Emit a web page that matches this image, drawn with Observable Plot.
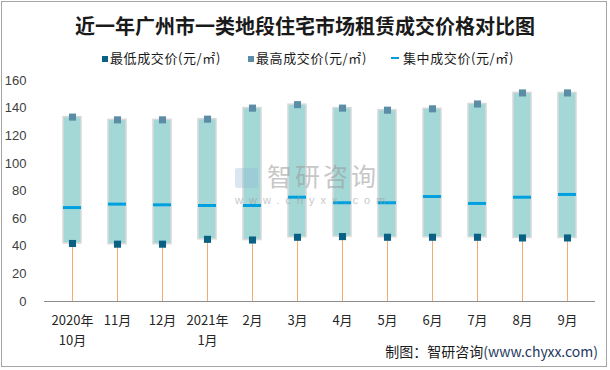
<!DOCTYPE html>
<html>
<head>
<meta charset="utf-8">
<script src="https://cdn.jsdelivr.net/npm/d3@7"></script>
<script src="https://cdn.jsdelivr.net/npm/@observablehq/plot@0.6"></script>
<style>
  html, body { margin: 0; padding: 0; background: #fff; }
  #frame { position: relative; width: 610px; height: 370px; overflow: hidden; font-family: "Noto Sans CJK SC", "Liberation Sans", sans-serif; }
  #border { position: absolute; left: 1px; top: 1px; width: 604px; height: 364px; border: 1px solid #a6a6a6; }
  #title { position: absolute; left: 0; width: 610px; top: 12px; text-align: center; font-size: 20px; font-weight: bold; color: #1a1a1a; line-height: 28px; }
  .leg { position: absolute; top: 49px; font-size: 13px; letter-spacing: 0.6px; color: #1a1a1a; line-height: 18px; white-space: nowrap; }
  .sw { display: inline-block; width: 6px; height: 6px; margin-right: 2px; vertical-align: 1px; }
  .ln { display: inline-block; width: 8px; height: 2px; margin-right: 4px; vertical-align: 4px; background: #00a0e0; }
  #source { position: absolute; right: 12px; top: 341px; font-size: 14px; color: #1a1a1a; white-space: nowrap; }
  #source .u { color: #1f3a60; }
  #chart { position: absolute; left: 0; top: 0; }
  #wm { position: absolute; left: 235px; top: 162px; color: #9a9a9a; opacity: 0.55; white-space: nowrap; pointer-events: none; }
  #wm .logo { display: inline-block; width: 23px; height: 20px; background: #8fb8d4; opacity: 0.6; vertical-align: -2px; margin-right: 9px; border-radius: 2px; }
  #wm .name { font-size: 25px; letter-spacing: 3px; line-height: 27px; }
  #wm .url { font-size: 11px; letter-spacing: 6px; line-height: 13px; margin-top: 3px; font-family: "Liberation Sans", sans-serif; }
</style>
</head>
<body>
<div id="frame">
  <div id="border"></div>
  <div id="title">近一年广州市一类地段住宅市场租赁成交价格对比图</div>
  <div class="leg" style="left:102px"><span class="sw" style="background:#0b6184"></span>最低成交价(元/㎡)</div>
  <div class="leg" style="left:248px"><span class="sw" style="background:#5b8ea6"></span>最高成交价(元/㎡)</div>
  <div class="leg" style="left:391px"><span class="ln"></span>集中成交价(元/㎡)</div>
  <div id="chart"></div>
  <div id="wm"><div><span class="logo"></span><span class="name">智研咨询</span></div><div class="url">www.chyxx.com</div></div>
  <div id="source">制图：智研咨询<span class="u">(www.chyxx.com)</span></div>
</div>
<script>
const months = ["2020年\n10月", "11月", "12月", "2021年\n1月", "2月", "3月", "4月", "5月", "6月", "7月", "8月", "9月"];
const minPrice = [42, 41.5, 41.5, 45, 44.5, 46.5, 47, 46.5, 46.5, 46.5, 46, 46];
const maxPrice = [133.5, 131.5, 131.5, 132, 140, 142.5, 140, 138.5, 139.5, 143, 151, 151];
const midPrice = [68, 70.5, 70, 69.5, 69.5, 75.5, 71.5, 71.5, 76, 71, 75.5, 77.5];
const yTicks = [0, 20, 40, 60, 80, 100, 120, 140, 160];

const data = months.map((m, i) => ({month: m, min: minPrice[i], max: maxPrice[i], mid: midPrice[i]}));

const chart = Plot.plot({
  width: 610,
  height: 370,
  marginTop: 80,
  marginBottom: 69,
  marginLeft: 44,
  marginRight: 15,
  style: {fontFamily: "'Liberation Sans', 'Noto Sans CJK SC', sans-serif", background: "transparent"},
  x: {domain: months, paddingInner: 0.6, paddingOuter: 0.3, axis: null, label: null},
  y: {domain: [0, 160], axis: null, label: null},
  marks: [
    Plot.axisY({ticks: yTicks, tickSize: 0, tickPadding: 18, fontSize: 13, color: "#404040", label: null}),
    Plot.axisX({tickSize: 0, tickPadding: 10, fontSize: 13, lineHeight: 1.5, color: "#262626", fontFamily: "'Noto Sans CJK SC', sans-serif", label: null}),
    Plot.ruleX(data, {x: "month", y1: 0, y2: "min", stroke: "#f2aa6e", strokeWidth: 1}),
    Plot.barY(data, {x: "month", y1: "min", y2: "max", fill: "#a4d8d6", stroke: "#d9d9d9", strokeWidth: 1.5}),
    Plot.ruleY([0], {stroke: "#8c8c8c", strokeWidth: 1}),
    Plot.tickY(data, {x: "month", y: "mid", stroke: "#00a0e0", strokeWidth: 3}),
    Plot.dot(data, {x: "month", y: "max", symbol: "square", r: 4, fill: "#5b8ea6", stroke: "none"}),
    Plot.dot(data, {x: "month", y: "min", symbol: "square", r: 4, fill: "#0b6184", stroke: "none"})
  ]
});
document.getElementById("chart").appendChild(chart);
</script>
</body>
</html>
